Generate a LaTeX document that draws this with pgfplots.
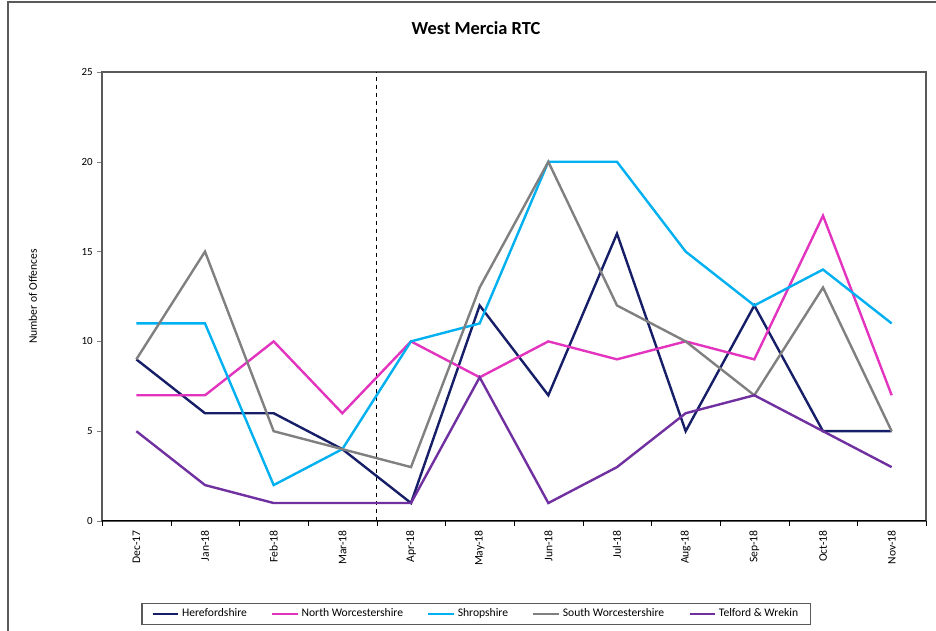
\documentclass[border=0pt]{standalone}
\usepackage{fontspec}
\setmainfont{Carlito}
\usepackage{pgfplots}
\pgfplotsset{compat=1.18}

\definecolor{hereford}{RGB}{22,30,104}
\definecolor{northw}{RGB}{226,52,190}
\definecolor{shrop}{RGB}{0,176,240}
\definecolor{southw}{RGB}{128,128,128}
\definecolor{telford}{RGB}{112,48,160}
\definecolor{frame}{RGB}{90,90,90}

\begin{document}
\begin{tikzpicture}[x=0.75pt,y=0.75pt]
\useasboundingbox (0,0) rectangle (936,631);
\draw[line width=1.5pt, frame] (8,-5) -- (8,628.5) -- (945,628.5);
\node[font=\bfseries\fontsize{13.8}{16}\selectfont] at (476,603) {West Mercia RTC};

\begin{axis}[
    at={(76.5pt,82.5pt)}, anchor=south west,
    scale only axis,
    width=618pt, height=336.75pt,
    xmin=-0.5, xmax=11.5,
    ymin=0, ymax=25,
    ytick={0,5,...,25},
    xtick={0,...,11},
    xticklabels={Dec-17,Jan-18,Feb-18,Mar-18,Apr-18,May-18,Jun-18,Jul-18,Aug-18,Sep-18,Oct-18,Nov-18},
    x tick style={draw=none},
    extra x ticks={-0.5,0.5,...,11.5},
    extra x tick labels={},
    extra x tick style={x tick style={draw=black}},
    tick align=outside,
    tick pos=left,
    major tick length=3.5pt,
    axis line style={frame, line width=0.8pt},
    xticklabel style={rotate=90, anchor=east, font=\fontsize{8.7}{10}\selectfont},
    yticklabel style={font=\fontsize{8.2}{10}\selectfont},
    /pgf/number format/assume math mode=true,
    ylabel={Number of Offences},
    ylabel style={at={(axis description cs:-0.084,0.5)}, anchor=center, font=\fontsize{8.7}{10}\selectfont},
    legend style={at={(0.454,-0.207)}, anchor=center, legend columns=5,
        draw=frame, line width=0.8pt, font=\fontsize{8.7}{10}\selectfont,
        inner xsep=7pt, inner ysep=2pt,
        /tikz/every even column/.append style={column sep=16pt}},
    legend cell align=left,
    legend image code/.code={\draw[#1, line width=2pt] (0pt,0pt) -- (19pt,0pt);},
    every axis plot/.append style={line width=1.8pt, mark=none},
]
\addplot[forget plot, black, dashed, line width=0.5pt] coordinates {(3.5,0) (3.5,25)};
\addplot[hereford] coordinates {(0,9) (1,6) (2,6) (3,4) (4,1) (5,12) (6,7) (7,16) (8,5) (9,12) (10,5) (11,5)};
\addplot[northw] coordinates {(0,7) (1,7) (2,10) (3,6) (4,10) (5,8) (6,10) (7,9) (8,10) (9,9) (10,17) (11,7)};
\addplot[shrop] coordinates {(0,11) (1,11) (2,2) (3,4) (4,10) (5,11) (6,20) (7,20) (8,15) (9,12) (10,14) (11,11)};
\addplot[southw] coordinates {(0,9) (1,15) (2,5) (3,4) (4,3) (5,13) (6,20) (7,12) (8,10) (9,7) (10,13) (11,5)};
\addplot[telford] coordinates {(0,5) (1,2) (2,1) (3,1) (4,1) (5,8) (6,1) (7,3) (8,6) (9,7) (10,5) (11,3)};
\draw[black, line width=0.8pt] (axis cs:-0.5,0) -- (axis cs:11.5,0);
\legend{Herefordshire, North Worcestershire, Shropshire, South Worcestershire, Telford \& Wrekin}
\end{axis}
\end{tikzpicture}
\end{document}
